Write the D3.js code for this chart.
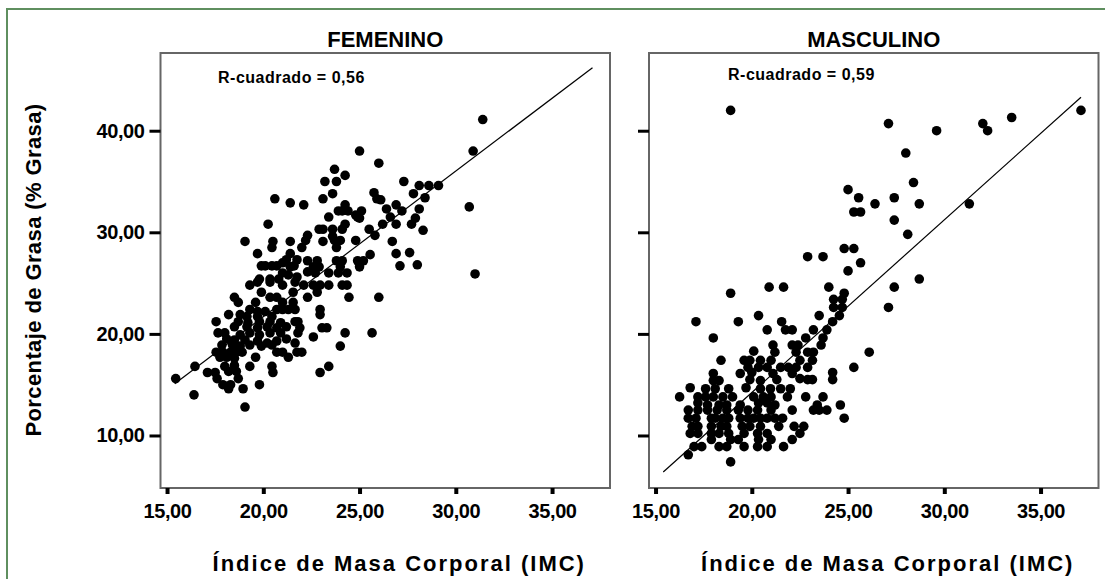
<!DOCTYPE html>
<html><head><meta charset="utf-8">
<script src="https://cdn.jsdelivr.net/npm/d3@7"></script>
<style>body{margin:0;background:#fff}svg{display:block}text{font-family:"Liberation Sans",Arial,sans-serif;font-weight:bold;fill:#000}</style>
</head><body><svg id="c" width="1105" height="579"></svg>
<script>
const panels = ["FEMENINO", "MASCULINO"];
const rSquared = ["R-cuadrado = 0,56", "R-cuadrado = 0,59"];
const xTitle = "Índice de Masa Corporal (IMC)";
const yTitle = "Porcentaje de Grasa (% Grasa)";
const xTicks = [15, 20, 25, 30, 35];
const yTicks = [10, 20, 30, 40];
const fitIMC = [15.4, 37.1];
const fitFem = [15.1, 46.2];
const fitMasc = [6.4, 43.3];

// [IMC, % Grasa]
const femenino = [
[25.0,38.0],[26.0,36.8],[23.7,36.2],[24.25,35.6],[23.2,35.0],[23.8,35.0],[27.3,35.0],[28.1,34.6],
[23.6,33.8],[23.1,33.3],[20.6,33.3],[21.4,32.9],[22.1,32.7],[25.75,33.9],[25.9,33.3],[26.1,33.2],[27.8,33.8],
[24.25,32.7],[24.1,32.1],[24.4,32.1],[23.9,32.1],[25.1,32.1],[24.9,31.5],[25.0,31.4],[24.8,31.7],
[26.4,32.3],[26.9,32.7],[27.2,32.1],[26.6,31.5],[26.9,30.8],[26.2,30.8],[27.7,30.8],[23.4,31.5],[20.25,30.8],
[22.9,30.3],[23.1,30.3],[23.6,30.3],[24.25,30.8],[24.1,30.3],[25.5,30.3],[25.8,29.7],[23.6,29.6],[23.7,29.2],
[24.0,29.2],[23.1,29.1],[22.3,29.7],[22.2,29.2],[22.0,28.5],[19.05,29.1],[20.5,29.1],[21.4,29.1],[20.45,28.5],
[24.8,29.2],[26.7,29.1],[23.8,28.5],[19.7,27.9],[21.4,27.9],[21.2,27.3],[21.0,27.0],[21.75,27.3],[21.6,26.7],
[21.4,26.6],[22.3,27.2],[22.8,27.2],[22.6,26.6],[22.9,26.6],[23.8,27.2],[24.1,27.2],[24.0,26.6],[24.9,27.2],
[25.2,27.2],[25.55,27.8],[25.0,26.6],[26.9,27.9],[27.1,26.7],[19.9,26.7],[20.1,26.7],[20.45,26.7],[20.7,26.7],
[21.0,26.0],[21.3,25.8],[21.75,25.6],[22.3,26.1],[22.7,26.0],[19.8,25.4],[20.35,25.4],[20.8,25.4],[23.4,26.0],
[23.9,26.0],[24.35,26.0],
[19.3,24.8],[19.7,25.1],[20.35,25.1],[21.0,24.8],[21.65,25.1],[22.1,24.8],[22.6,24.8],[22.95,24.8],[23.4,24.8],
[24.1,24.8],[24.35,24.8],[18.5,23.6],[18.7,23.1],[19.9,24.1],[20.35,23.6],[20.7,23.6],[21.0,23.1],[21.55,24.1],
[21.55,23.1],[22.3,23.6],[22.8,24.1],[24.45,23.6],[26.0,23.6],[19.6,23.1],
[19.3,22.4],[19.7,22.2],[20.1,22.2],[20.7,22.4],[21.0,22.4],[21.3,22.4],[21.65,22.4],[22.95,22.4],[22.95,21.9],
[18.2,21.9],[18.8,21.9],[19.15,21.7],[19.7,21.7],[20.45,21.7],
[17.55,21.2],[18.7,21.2],[19.2,21.1],[19.8,21.2],[20.35,21.2],[20.9,21.1],[21.65,21.2],[21.8,21.2],
[18.5,20.7],[19.15,20.7],[19.7,20.6],[20.2,20.7],[20.7,20.6],[21.2,20.7],[21.9,20.6],[23.05,20.6],[23.3,20.6],
[17.65,20.1],[18.0,20.1],[18.8,19.9],[19.3,20.1],[19.8,19.9],[20.35,20.1],[20.9,20.1],[21.8,20.1],[22.6,19.7],
[24.25,20.1],[25.65,20.1],
[18.1,19.5],[18.5,19.4],[19.05,19.4],[19.7,19.3],[20.2,19.1],[20.7,19.3],[21.2,19.5],[21.65,19.1],
[17.85,18.9],[18.4,18.9],[18.8,18.8],[19.3,18.9],[19.9,18.8],[20.45,18.9],[20.7,18.2],[21.0,18.2],[21.3,17.7],
[21.75,18.2],[22.0,18.2],[24.0,18.8],
[17.55,18.2],[17.9,18.2],[18.3,18.2],[18.6,18.2],[18.9,18.2],
[17.75,17.7],[18.1,17.7],[18.5,17.6],[19.6,17.7],
[16.45,16.8],[18.0,16.8],[18.5,16.9],[19.3,16.8],[20.45,16.8],[20.5,16.2],[23.4,16.8],[22.95,16.2],
[17.1,16.2],[17.5,16.2],[18.2,16.3],[18.6,16.3],
[15.45,15.6],[17.6,15.6],[18.7,15.6],
[17.9,15.0],[18.3,15.0],[18.2,14.6],[18.95,14.6],[19.8,15.0],
[16.4,14.0],[19.05,12.8],
[28.6,34.6],[29.1,34.6],[28.4,33.4],[28.1,32.3],[27.9,31.4],[28.3,30.2],[27.6,28.0],[28.0,26.8],
[30.9,38.0],[31.4,41.1],[30.7,32.5],[31.0,25.9]
];

const masculino = [
[18.9,42.0],[27.1,40.7],[29.6,40.0],[32.0,40.7],[32.25,40.0],[33.5,41.3],[37.1,42.0],[28.0,37.8],
[28.4,34.9],[25.0,34.2],[25.55,33.4],[26.4,32.8],[25.3,32.0],[25.65,32.0],[27.4,33.4],[27.4,31.2],
[28.1,29.8],[28.7,32.8],[31.3,32.8],[24.8,28.4],[25.3,28.4],[22.9,27.6],[23.7,27.6],[25.65,27.0],
[25.0,26.2],[20.9,24.6],[21.65,24.6],[24.0,24.6],[27.4,24.6],[28.7,25.4],[18.9,24.0],[24.8,24.0],
[24.25,23.4],[24.7,23.4],[24.25,22.6],[24.7,22.6],[27.1,22.6],
[17.1,21.2],[19.3,21.2],[20.35,21.8],[21.55,21.2],[23.5,21.8],[24.55,21.8],[24.2,21.2],
[20.8,20.4],[21.75,20.4],[22.1,20.4],[23.2,20.4],[23.9,20.4],[18.0,19.6],[22.8,19.6],[23.7,19.6],
[20.1,18.3],[21.1,18.9],[21.2,18.2],[22.1,18.9],[22.4,18.9],[22.3,18.2],[22.9,18.2],[23.2,18.2],[23.6,18.9],
[26.1,18.2],
[18.4,17.4],[19.6,17.4],[19.9,17.4],[20.45,17.4],[21.0,17.4],[21.5,16.7],[22.5,17.4],[23.15,17.4],
[19.8,16.7],[20.35,16.7],[20.8,16.7],[21.9,16.7],[22.3,16.7],[22.9,16.7],[25.3,16.7],
[18.0,16.1],[19.4,16.1],[20.0,16.2],[21.1,16.1],[21.3,15.5],[22.1,16.1],[22.5,15.6],[22.9,15.5],[23.15,15.5],
[18.0,15.4],[18.3,15.4],[24.2,16.2],[24.2,15.5],[19.9,15.5],[20.45,15.4],
[16.8,14.7],[17.6,14.6],[18.1,14.6],[18.8,14.6],[19.7,14.7],[20.45,14.6],[20.97,14.6],[21.5,14.6],[22.0,14.6],
[16.25,13.8],
[17.2,13.8],[17.6,13.8],[18.0,13.8],[18.5,13.8],[19.0,13.8],[20.1,13.8],[20.6,13.8],[21.0,13.8],[21.85,13.8],
[22.8,13.8],[23.7,13.8],
[17.2,13.2],[17.7,13.0],[18.3,13.0],[18.7,13.0],[19.4,13.0],[20.35,13.2],[20.8,13.2],[21.2,13.0],[23.4,13.0],[24.6,13.0],
[16.7,12.5],[17.2,12.5],[17.7,12.5],[18.2,12.5],[18.7,12.5],[19.3,12.5],[19.8,12.5],[20.3,12.5],[21.0,12.5],
[22.1,12.5],[23.2,12.5],[23.5,12.5],[23.9,12.5],
[16.7,11.7],[17.1,11.7],[17.9,11.7],[18.1,11.7],[18.5,11.7],[18.8,11.7],[19.4,11.7],[19.8,11.7],[20.1,11.7],
[20.45,11.7],[20.8,11.7],[21.2,11.7],[21.6,11.7],[24.8,11.7],
[16.9,10.9],[17.2,10.9],[17.9,10.9],[18.4,10.9],[18.7,10.9],[19.5,10.9],[19.9,10.9],[20.45,10.9],[21.4,10.9],
[22.2,10.9],[22.7,10.9],
[16.8,10.2],[17.2,10.2],[17.9,10.2],[18.3,10.2],[18.8,10.2],[19.6,10.2],[20.3,10.2],[20.8,10.2],[22.5,10.2],
[17.9,9.6],[18.9,9.6],[19.3,9.6],[20.35,9.6],[21.0,9.6],[22.1,9.6],
[17.0,8.9],[17.4,8.9],[18.3,8.9],[18.7,8.9],[19.6,8.9],[20.3,8.9],[20.8,8.9],[21.65,8.9],
[16.7,8.1],[18.9,7.4]
];

const svg = d3.select("#c");
const W = 449.5, yTop = 53, yBot = 488;
const panelX = [160.5, 649];
const x = d3.scaleLinear().domain([14.66, 38.01]).range([0, W]);
const y = d3.scaleLinear().domain([4.83, 47.65]).range([yBot, yTop]);
const loc = d3.formatLocale({decimal: ",", thousands: ".", grouping: [3], currency: ["", ""]});
const fmt = loc.format(".2f");

svg.append("rect").attr("x", 7).attr("y", 9).attr("width", 1110).attr("height", 600)
  .attr("fill", "none").attr("stroke", "#5f8f5f").attr("stroke-width", 2);

const datasets = [femenino, masculino];
const fits = [fitFem, fitMasc];
const rX = [57.5, 79];
const rY = [83, 80];

panels.forEach((name, i) => {
  const g = svg.append("g").attr("transform", `translate(${panelX[i]},0)`);
  g.selectAll("circle").data(datasets[i]).join("circle")
    .attr("cx", d => x(d[0])).attr("cy", d => y(d[1])).attr("r", 4.8).attr("fill", "#000");
  g.append("line")
    .attr("x1", x(fitIMC[0])).attr("y1", y(fits[i][0]))
    .attr("x2", x(fitIMC[1])).attr("y2", y(fits[i][1]))
    .attr("stroke", "#000").attr("stroke-width", 1.2);
  g.append("rect").attr("x", 0).attr("y", yTop).attr("width", W).attr("height", yBot - yTop)
    .attr("fill", "none").attr("stroke", "#666").attr("stroke-width", 2);
  const xa = g.append("g").attr("transform", `translate(0,${yBot})`)
    .call(d3.axisBottom(x).tickValues(xTicks).tickFormat(fmt).tickSize(6).tickPadding(10));
  xa.select(".domain").remove();
  xa.selectAll("line").attr("stroke", "#000").attr("stroke-width", 4);
  xa.selectAll("text").style("font-size", "20px").style("letter-spacing", "-0.4px").attr("fill", "#000");
  const ya = g.append("g")
    .call(d3.axisLeft(y).tickValues(yTicks).tickFormat(i === 0 ? fmt : () => "").tickSize(11).tickPadding(5));
  ya.select(".domain").remove();
  ya.selectAll("line").attr("stroke", "#000").attr("stroke-width", 3);
  ya.selectAll("text").style("font-size", "20px").style("letter-spacing", "-0.4px").attr("fill", "#000");
  g.append("text").attr("x", W / 2).attr("y", 47).attr("text-anchor", "middle")
    .style("font-size", "22px").text(name);
  g.append("text").attr("x", rX[i]).attr("y", rY[i])
    .style("font-size", "16px").style("letter-spacing", "0.5px").text(rSquared[i]);
  g.append("text").attr("x", W / 2 + 14).attr("y", 571).attr("text-anchor", "middle")
    .style("font-size", "22px").style("letter-spacing", "2px").text(xTitle);
});

svg.append("text").attr("transform", "translate(41,270) rotate(-90)").attr("text-anchor", "middle")
  .style("font-size", "22px").style("letter-spacing", "0.4px").text(yTitle);
</script>
</body></html>
